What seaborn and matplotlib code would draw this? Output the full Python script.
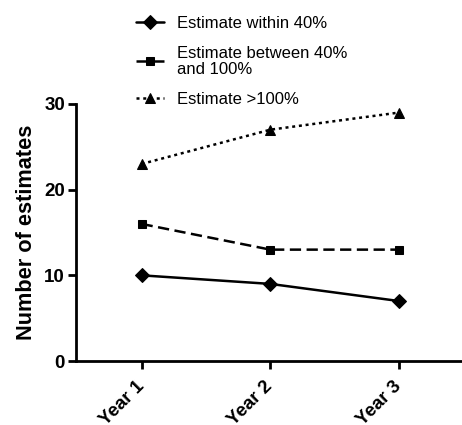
import matplotlib
matplotlib.use("Agg")
import matplotlib.pyplot as plt
import matplotlib.transforms as mtransforms
import seaborn as sns
import pandas as pd

years = ["Year 1", "Year 2", "Year 3"]
within_40 = [10, 9, 7]
between_40_100 = [16, 13, 13]
over_100 = [23, 27, 29]
series_labels = ["Estimate within 40%", "Estimate between 40%\nand 100%", "Estimate >100%"]

sns.set_style("ticks")
plt.rcParams['font.family'] = ['Liberation Sans', 'DejaVu Sans']
plt.rcParams['text.color'] = 'black'
plt.rcParams['axes.labelcolor'] = 'black'
plt.rcParams['xtick.color'] = 'black'
plt.rcParams['ytick.color'] = 'black'
plt.rcParams['axes.edgecolor'] = 'black'

fig = plt.figure(figsize=(4.62, 4.25), dpi=100)
ax = fig.add_axes([76/462, 1-361/425, 1-76/462, (361-104)/425])

styles = [("D", "-", 7), ("s", (0, (4.5, 2.2)), 6), ("^", (0, (1.2, 1.5)), 7)]
for vals, lab, (mk, ls, ms) in zip([within_40, between_40_100, over_100], series_labels, styles):
    df = pd.DataFrame({"year": years, "n": vals})
    sns.lineplot(data=df, x="year", y="n", ax=ax, color="black", marker=mk,
                 markersize=ms, linestyle=ls, linewidth=1.8, label=lab,
                 markeredgecolor="black", sort=False)

ax.set_ylim(0, 30)
ax.set_yticks([0, 10, 20, 30])
ax.set_xlim(-0.51, 2.49)
ax.set_xlabel("")
ax.set_ylabel("Number of estimates", fontsize=15.7, fontweight="bold", labelpad=5)
for s in ["top", "right"]:
    ax.spines[s].set_visible(False)
for s in ["left", "bottom"]:
    ax.spines[s].set_linewidth(2)
ax.tick_params(axis="both", width=2, length=6, labelsize=13.5, pad=2)
ax.tick_params(axis="x", pad=6)
offset = mtransforms.ScaledTranslation(-6/100, 0, fig.dpi_scale_trans)
for t in ax.get_yticklabels():
    t.set_fontweight("bold")
for t in ax.get_xticklabels():
    t.set_fontweight("bold")
    t.set_rotation(45)
    t.set_ha("right")
    t.set_rotation_mode("anchor")
    t.set_transform(t.get_transform() + offset)

h, l = ax.get_legend_handles_labels()
ax.get_legend().remove()
leg = fig.legend(h, l, loc="upper left", bbox_to_anchor=(121/462, 1-1/425), frameon=False,
                 fontsize=12, handlelength=1.7, handletextpad=0.75, labelspacing=0.9)
for t in leg.get_texts():
    t.set_linespacing(1.05)

fig.savefig("out.png", dpi=100)
